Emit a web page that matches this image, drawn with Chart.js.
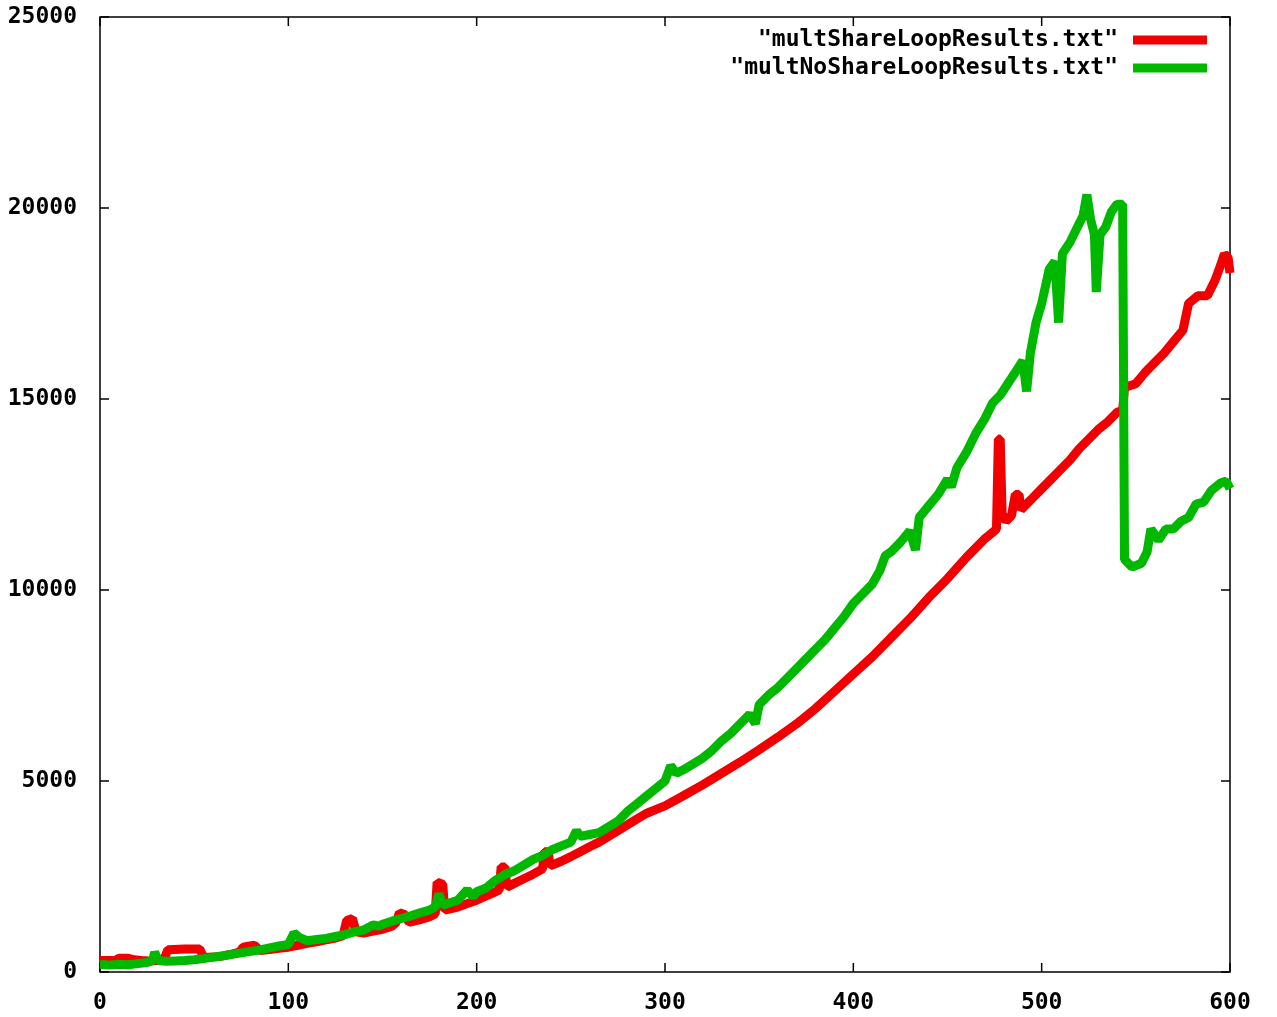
<!DOCTYPE html>
<html><head><meta charset="utf-8">
<script src="https://cdn.jsdelivr.net/npm/chart.js@4"></script>
<style>html,body{margin:0;padding:0;background:#fff;}#c{display:block;}</style>
</head><body>
<canvas id="c" width="1277" height="1017"></canvas>
<script>
const seriesLabels = ['"multShareLoopResults.txt"', '"multNoShareLoopResults.txt"'];
const xTickValues = [0, 100, 200, 300, 400, 500, 600];
const yTickValues = [0, 5000, 10000, 15000, 20000, 25000];

const redX = [0,5,8,10,15,18,22,26,30,34,36,45,53,55,60,65,70,74,76,82,85,90,95,100,105,110,115,120,125,129,131,134,136,140,145,150,155,157,159,162,164,170,175,178,179,182,183,190,195,200,205,210,212,213,215,216,220,225,230,235,236,238,239,245,250,255,260,265,270,275,280,285,290,295,300,310,320,330,340,350,360,370,380,390,400,410,420,430,440,450,460,470,475,476,477,478,479,481,484,486,488,489,495,500,505,510,515,520,525,530,535,540,543,544,550,555,560,565,570,575,578,583,588,592,595,597,599,600];
const redY = [300,300,300,360,360,320,300,290,300,330,580,600,600,380,390,420,470,520,650,700,560,590,620,650,700,750,790,840,890,950,1350,1400,1050,1020,1070,1120,1200,1280,1550,1500,1300,1370,1450,1520,2350,2300,1620,1700,1790,1880,1990,2100,2150,2750,2750,2220,2320,2440,2560,2700,3150,3150,2780,2900,3020,3150,3280,3400,3550,3700,3850,4000,4150,4250,4350,4620,4900,5200,5500,5820,6150,6500,6900,7350,7800,8250,8750,9250,9800,10300,10850,11350,11550,11600,13950,13950,12000,11800,11950,12500,12500,12100,12400,12650,12900,13150,13400,13700,13950,14200,14400,14650,14700,15300,15400,15700,15950,16200,16500,16800,17500,17700,17700,18100,18500,18800,18700,18300];

const greenX = [0,5,10,15,20,25,28,29,31,35,40,45,50,55,60,65,70,75,80,85,90,95,100,103,106,110,115,120,125,130,135,140,145,148,150,155,160,165,170,175,178,180,182,185,190,195,198,200,205,210,215,220,225,230,235,240,245,250,253,255,260,265,270,275,280,285,290,295,300,303,306,310,315,320,325,330,335,340,345,348,350,355,360,365,370,375,380,385,390,395,400,405,410,414,417,420,425,430,433,435,440,445,450,452,455,460,465,470,474,478,482,486,490,492,494,497,500,504,507,509,511,515,519,522,524,526,528,529,531,534,537,540,543,544,548,553,556,558,562,566,570,574,578,582,586,590,595,598,600];
const greenY = [200,180,200,190,220,250,300,520,300,280,290,300,320,350,390,420,460,500,540,580,630,680,720,1020,900,820,850,880,930,980,1050,1100,1230,1200,1250,1330,1400,1470,1550,1620,1700,2050,1750,1800,1880,2150,1970,2100,2200,2400,2550,2650,2800,2950,3050,3200,3300,3400,3700,3550,3600,3650,3800,3950,4200,4400,4600,4800,5000,5400,5200,5300,5450,5600,5800,6050,6250,6500,6750,6500,7000,7250,7450,7700,7950,8200,8450,8700,9000,9300,9650,9900,10150,10500,10900,11000,11250,11550,11050,11900,12200,12500,12900,12700,13200,13600,14100,14500,14900,15100,15400,15700,16000,15200,16200,17000,17500,18400,18600,17000,18800,19100,19500,19800,20350,19700,19300,17800,19300,19500,19900,20100,20100,10800,10600,10700,11000,11600,11300,11600,11600,11800,11900,12250,12300,12600,12800,12850,12650];

const pairs = (xs, ys) => xs.map((v, i) => ({x: v, y: ys[i]}));
const FAMILY = '"DejaVu Sans Mono", monospace';
const FONT = 'bold 23px ' + FAMILY;

const framePlugin = {
  id: 'frame',
  beforeDatasetsDraw(chart) {
    const {ctx, chartArea: a, scales: {x, y}} = chart;
    ctx.save();
    ctx.strokeStyle = '#000';
    ctx.lineWidth = 1.5;
    ctx.strokeRect(a.left, a.top, a.right - a.left, a.bottom - a.top);
    ctx.beginPath();
    xTickValues.forEach(v => {
      const p = x.getPixelForValue(v);
      ctx.moveTo(p, a.bottom); ctx.lineTo(p, a.bottom - 9);
      ctx.moveTo(p, a.top); ctx.lineTo(p, a.top + 9);
    });
    yTickValues.forEach(v => {
      const p = y.getPixelForValue(v);
      ctx.moveTo(a.left, p); ctx.lineTo(a.left + 9, p);
      ctx.moveTo(a.right, p); ctx.lineTo(a.right - 9, p);
    });
    ctx.stroke();
    ctx.restore();
  },
  afterDatasetsDraw(chart) {
    const {ctx} = chart;
    ctx.save();
    ctx.font = FONT;
    ctx.textAlign = 'right';
    ctx.textBaseline = 'middle';
    chart.data.datasets.forEach((ds, i) => {
      const yy = 40 + i * 28;
      ctx.fillStyle = '#000';
      ctx.fillText(ds.label, 1118, yy);
      ctx.strokeStyle = ds.borderColor;
      ctx.lineWidth = 9;
      ctx.beginPath();
      ctx.moveTo(1133, yy); ctx.lineTo(1207, yy);
      ctx.stroke();
    });
    ctx.restore();
  }
};

new Chart(document.getElementById('c'), {
  type: 'line',
  data: {
    datasets: [
      {label: seriesLabels[0], data: pairs(redX, redY), borderColor: '#f00000', borderWidth: 9, pointRadius: 0, tension: 0, order: 2, clip: false, borderJoinStyle: 'bevel'},
      {label: seriesLabels[1], data: pairs(greenX, greenY), borderColor: '#00b800', borderWidth: 9, pointRadius: 0, tension: 0, order: 1, clip: false, borderJoinStyle: 'bevel'}
    ]
  },
  options: {
    responsive: false,
    animation: false,
    devicePixelRatio: 1,
    layout: {padding: {left: 0, right: 47, top: 17, bottom: 0}},
    plugins: {legend: {display: false}, tooltip: {enabled: false}},
    scales: {
      x: {
        type: 'linear', min: 0, max: 600,
        grid: {display: false}, border: {display: false},
        ticks: {stepSize: 100, color: '#000', padding: 9, font: {family: FAMILY, size: 23, weight: 'bold'}, callback: v => String(v)},
        afterFit(s) { s.height = 45; s.paddingLeft = 0; s.paddingRight = 0; }
      },
      y: {
        type: 'linear', min: 0, max: 25000,
        grid: {display: false}, border: {display: false},
        ticks: {stepSize: 5000, color: '#000', padding: 15, font: {family: FAMILY, size: 23, weight: 'bold'}, callback: v => String(v)},
        afterFit(s) { s.width = 100; s.paddingTop = 0; s.paddingBottom = 0; }
      }
    }
  },
  plugins: [framePlugin]
});
</script>
</body></html>
